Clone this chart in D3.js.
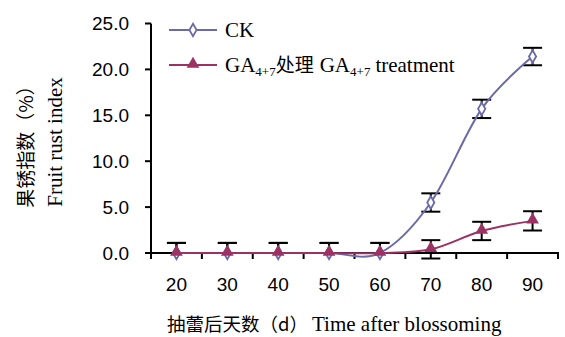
<html>
<head>
<script src="https://d3js.org/d3.v7.min.js"></script>
<style>
  body { margin: 0; background: #fff; }
  text { fill: #000; }
  .num { font-family: "Liberation Sans", Arial, sans-serif; font-size: 19px; }
  .tnr { font-family: "Liberation Serif", "Times New Roman", serif; font-size: 21px; }
  .cjk { font-family: "Noto Sans CJK SC", sans-serif; font-size: 18.5px; }
</style>
</head>
<body>
<div id="chart"></div>
<script>
var days = ["20", "30", "40", "50", "60", "70", "80", "90"];
var ckValues = [0, 0, 0, 0, 0, 5.5, 15.7, 21.4];
var ckErr = [1.1, 1.1, 1.1, 1.1, 1.1, 1.0, 1.0, 0.95];
var gaValues = [0, 0, 0, 0, 0, 0.4, 2.4, 3.5];
var gaErr = [1.1, 1.1, 1.1, 1.1, 1.1, 1.0, 1.0, 1.05];
var yTicks = [0, 5, 10, 15, 20, 25];

var width = 565, height = 337;
var ckColor = "#6b6aa8", gaColor = "#9c3263";

var svg = d3.select("#chart").append("svg")
    .attr("width", width).attr("height", height);

var x = d3.scaleBand().domain(days).range([151, 558]);
var y = d3.scaleLinear().domain([0, 25]).range([253, 23.5]);

// y axis
svg.append("line").attr("x1", 151).attr("x2", 151)
    .attr("y1", y(25)).attr("y2", 259)
    .attr("stroke", "#000").attr("stroke-width", 2);
svg.selectAll(".ytick").data(yTicks).enter().append("line")
    .attr("x1", 145).attr("x2", 151)
    .attr("y1", function(d) { return y(d); }).attr("y2", function(d) { return y(d); })
    .attr("stroke", "#000").attr("stroke-width", 2);
svg.selectAll(".ylab").data(yTicks).enter().append("text")
    .attr("class", "num")
    .attr("x", 129).attr("y", function(d) { return y(d); })
    .attr("dy", "0.36em").attr("text-anchor", "end")
    .text(function(d) { return d.toFixed(1); });

// x axis
svg.append("line").attr("x1", 145).attr("x2", 559)
    .attr("y1", y(0)).attr("y2", y(0))
    .attr("stroke", "#000").attr("stroke-width", 2);
var bounds = days.map(function(d) { return x(d); }).concat([x.range()[1]]);
svg.selectAll(".xtick").data(bounds).enter().append("line")
    .attr("x1", function(d) { return d; }).attr("x2", function(d) { return d; })
    .attr("y1", y(0)).attr("y2", y(0) + 6)
    .attr("stroke", "#000").attr("stroke-width", 2);
svg.selectAll(".xlab").data(days).enter().append("text")
    .attr("class", "num")
    .attr("x", function(d) { return x(d) + x.bandwidth() / 2; })
    .attr("y", 291).attr("text-anchor", "middle")
    .text(function(d) { return d; });

// titles
svg.append("text").attr("class", "cjk").attr("x", 167).attr("y", 331)
    .text("抽蕾后天数（d）");
svg.append("text").attr("class", "tnr").attr("x", 312).attr("y", 331)
    .text("Time after blossoming");

svg.append("text").attr("class", "cjk")
    .attr("transform", "translate(33,142) rotate(-90)")
    .style("font-size", "19px")
    .attr("text-anchor", "middle").text("果锈指数（%）");
svg.append("text").attr("class", "tnr")
    .attr("transform", "translate(62,142) rotate(-90)")
    .attr("text-anchor", "middle").text("Fruit rust index");

// lines
var cx = function(i) { return x(days[i]) + x.bandwidth() / 2; };
var line = d3.line()
    .x(function(d, i) { return cx(i); })
    .y(function(d) { return y(d); })
    .curve(d3.curveCardinal.tension(0));

function errorBars(vals, errs) {
  var g = svg.append("g").attr("stroke", "#000").attr("stroke-width", 2).attr("fill", "none");
  vals.forEach(function(v, i) {
    var top = y(v + errs[i]);
    var bot = y(v > 0 ? v - errs[i] : v);
    var px = cx(i);
    g.append("line").attr("x1", px).attr("x2", px).attr("y1", top).attr("y2", bot);
    g.append("line").attr("x1", px - 9.5).attr("x2", px + 9.5).attr("y1", top).attr("y2", top);
    if (v > 0) g.append("line").attr("x1", px - 9.5).attr("x2", px + 9.5).attr("y1", bot).attr("y2", bot);
  });
}
errorBars(ckValues, ckErr);
errorBars(gaValues, gaErr);

svg.append("path").datum(ckValues).attr("d", line)
    .attr("fill", "none").attr("stroke", ckColor).attr("stroke-width", 2);
svg.append("path").datum(gaValues).attr("d", line)
    .attr("fill", "none").attr("stroke", gaColor).attr("stroke-width", 2);

var diamond = d3.symbol().type(d3.symbolDiamond).size(45);
var tri = d3.symbol().type(d3.symbolTriangle).size(70);

svg.selectAll(".ck").data(ckValues).enter().append("path")
    .attr("d", diamond)
    .attr("transform", function(d, i) { return "translate(" + cx(i) + "," + y(d) + ")"; })
    .attr("fill", "#fff").attr("stroke", ckColor).attr("stroke-width", 1.8);
svg.selectAll(".ga").data(gaValues).enter().append("path")
    .attr("d", tri)
    .attr("transform", function(d, i) { return "translate(" + cx(i) + "," + (y(d) - 1) + ")"; })
    .attr("fill", gaColor);

// legend
var lg = svg.append("g");
lg.append("line").attr("x1", 169).attr("x2", 217).attr("y1", 30).attr("y2", 30)
    .attr("stroke", ckColor).attr("stroke-width", 2);
lg.append("path").attr("d", diamond).attr("transform", "translate(193,30)")
    .attr("fill", "#fff").attr("stroke", ckColor).attr("stroke-width", 1.8);
lg.append("text").attr("class", "tnr").attr("x", 225).attr("y", 37).text("CK");

lg.append("line").attr("x1", 169).attr("x2", 217).attr("y1", 65).attr("y2", 65)
    .attr("stroke", gaColor).attr("stroke-width", 2);
lg.append("path").attr("d", tri).attr("transform", "translate(193,64)").attr("fill", gaColor);
var t2 = lg.append("text").attr("x", 225).attr("y", 72);
t2.append("tspan").attr("class", "tnr").text("GA");
t2.append("tspan").attr("class", "tnr").attr("dy", 4).style("font-size", "13px").text("4+7");
t2.append("tspan").attr("class", "cjk").attr("dy", -4).style("font-size", "19px").text("处理");
t2.append("tspan").attr("class", "tnr").attr("dx", 6).text("GA");
t2.append("tspan").attr("class", "tnr").attr("dy", 4).style("font-size", "13px").text("4+7");
t2.append("tspan").attr("class", "tnr").attr("dy", -4).attr("dx", 5).text("treatment");
</script>
</body>
</html>
